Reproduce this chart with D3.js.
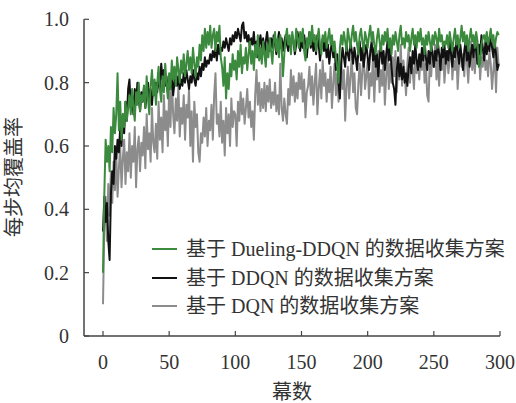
<!DOCTYPE html>
<html>
<head>
<meta charset="utf-8">
<script src="https://cdn.jsdelivr.net/npm/d3@7"></script>
<style>
  body { margin: 0; background: #fff; }
</style>
</head>
<body>
<svg id="chart"></svg>
<script>
// episode values (one per episode, 0..299)
const duelingDDQN = [
  0.20,0.45,0.62,0.55,0.60,0.52,0.66,0.58,0.72,0.64,
  0.70,0.83,0.65,0.74,0.62,0.70,0.66,0.74,0.68,0.72,
  0.76,0.70,0.78,0.72,0.68,0.77,0.73,0.80,0.71,0.76,
  0.74,0.79,0.72,0.82,0.75,0.70,0.79,0.84,0.76,0.81,
  0.73,0.80,0.85,0.78,0.74,0.82,0.77,0.86,0.80,0.75,
  0.83,0.78,0.87,0.81,0.85,0.79,0.88,0.84,0.80,0.87,
  0.83,0.89,0.82,0.86,0.90,0.84,0.88,0.83,0.91,0.86,
  0.82,0.88,0.85,0.92,0.87,0.95,0.90,0.97,0.91,0.96,
  0.92,0.98,0.91,0.95,0.97,0.90,0.96,0.93,0.98,0.88,
  0.85,0.79,0.88,0.75,0.83,0.78,0.86,0.82,0.89,0.84,
  0.87,0.81,0.90,0.85,0.92,0.83,0.88,0.86,0.91,0.84,
  0.89,0.93,0.86,0.90,0.84,0.92,0.88,0.95,0.87,0.91,
  0.86,0.93,0.89,0.85,0.92,0.88,0.94,0.90,0.86,0.93,
  0.96,0.90,0.94,0.88,0.95,0.91,0.82,0.89,0.94,0.97,
  0.92,0.95,0.89,0.96,0.93,0.90,0.97,0.94,0.91,0.96,
  0.93,0.97,0.90,0.87,0.94,0.91,0.96,0.92,0.98,0.93,
  0.95,0.90,0.94,0.97,0.92,0.89,0.95,0.93,0.96,0.91,
  0.94,0.97,0.92,0.95,0.90,0.93,0.88,0.85,0.80,0.91,
  0.95,0.92,0.96,0.93,0.90,0.97,0.94,0.91,0.95,0.98,
  0.93,0.96,0.92,0.89,0.95,0.97,0.93,0.90,0.96,0.94,
  0.91,0.95,0.98,0.93,0.96,0.92,0.89,0.94,0.97,0.93,
  0.90,0.95,0.92,0.96,0.93,0.97,0.91,0.94,0.89,0.95,
  0.92,0.96,0.93,0.90,0.95,0.98,0.92,0.94,0.91,0.96,
  0.93,0.95,0.90,0.94,0.97,0.92,0.95,0.91,0.96,0.93,
  0.97,0.92,0.94,0.89,0.95,0.92,0.96,0.93,0.90,0.95,
  0.92,0.96,0.94,0.91,0.97,0.93,0.95,0.91,0.93,0.92,
  0.95,0.91,0.96,0.93,0.90,0.94,0.97,0.92,0.95,0.91,
  0.94,0.98,0.93,0.96,0.92,0.95,0.90,0.94,0.97,0.93,
  0.95,0.91,0.96,0.93,0.85,0.86,0.92,0.94,0.95,0.93,
  0.96,0.92,0.94,0.97,0.93,0.95,0.91,0.94,0.96,0.95
];
const ddqn = [
  0.33,0.44,0.36,0.42,0.30,0.24,0.45,0.52,0.48,0.60,
  0.56,0.62,0.58,0.66,0.60,0.70,0.64,0.74,0.68,0.78,
  0.81,0.72,0.76,0.70,0.78,0.73,0.80,0.75,0.71,0.77,
  0.74,0.79,0.72,0.76,0.80,0.74,0.78,0.73,0.79,0.76,
  0.80,0.77,0.83,0.78,0.86,0.81,0.84,0.79,0.82,0.77,
  0.81,0.78,0.83,0.76,0.80,0.84,0.79,0.82,0.78,0.81,
  0.79,0.83,0.80,0.84,0.81,0.78,0.82,0.80,0.84,0.81,
  0.79,0.83,0.81,0.85,0.82,0.86,0.84,0.88,0.85,0.87,
  0.86,0.89,0.87,0.90,0.88,0.91,0.87,0.92,0.89,0.91,
  0.90,0.93,0.91,0.94,0.92,0.90,0.94,0.92,0.95,0.93,
  0.96,0.94,0.97,0.95,0.93,0.98,0.99,0.94,0.96,0.93,
  0.95,0.91,0.94,0.92,0.96,0.90,0.93,0.88,0.92,0.95,
  0.91,0.94,0.89,0.93,0.96,0.92,0.90,0.94,0.91,0.95,
  0.92,0.89,0.93,0.96,0.91,0.94,0.90,0.93,0.95,0.92,
  0.90,0.94,0.91,0.95,0.93,0.89,0.92,0.96,0.93,0.90,
  0.94,0.91,0.95,0.92,0.88,0.93,0.96,0.91,0.94,0.90,
  0.93,0.89,0.95,0.92,0.87,0.91,0.94,0.90,0.93,0.88,
  0.92,0.86,0.90,0.93,0.88,0.91,0.84,0.89,0.80,0.75,
  0.86,0.91,0.88,0.85,0.92,0.89,0.87,0.93,0.90,0.86,
  0.91,0.88,0.84,0.90,0.93,0.87,0.91,0.85,0.89,0.92,
  0.88,0.84,0.90,0.93,0.87,0.91,0.85,0.89,0.82,0.88,
  0.92,0.86,0.90,0.84,0.89,0.93,0.87,0.91,0.85,0.80,
  0.78,0.73,0.84,0.88,0.82,0.86,0.81,0.85,0.80,0.83,
  0.79,0.85,0.88,0.83,0.90,0.86,0.92,0.87,0.84,0.89,
  0.85,0.91,0.87,0.93,0.88,0.84,0.90,0.86,0.92,0.89,
  0.85,0.90,0.87,0.93,0.89,0.84,0.91,0.88,0.92,0.86,
  0.90,0.87,0.93,0.89,0.85,0.91,0.88,0.94,0.90,0.86,
  0.92,0.88,0.84,0.90,0.93,0.87,0.91,0.85,0.89,0.92,
  0.88,0.94,0.90,0.86,0.92,0.89,0.95,0.91,0.87,0.93,
  0.89,0.94,0.90,0.96,0.91,0.88,0.93,0.89,0.84,0.86
];
const dqn = [
  0.10,0.34,0.44,0.30,0.48,0.38,0.52,0.42,0.55,0.46,
  0.58,0.44,0.53,0.60,0.47,0.56,0.62,0.48,0.58,0.52,
  0.64,0.50,0.60,0.55,0.66,0.47,0.59,0.63,0.52,0.61,
  0.57,0.66,0.53,0.70,0.59,0.64,0.55,0.72,0.61,0.58,
  0.67,0.56,0.74,0.62,0.69,0.58,0.76,0.65,0.71,0.60,
  0.78,0.66,0.82,0.70,0.64,0.75,0.68,0.79,0.63,0.72,
  0.67,0.76,0.62,0.73,0.69,0.78,0.60,0.71,0.55,0.74,
  0.66,0.70,0.58,0.55,0.64,0.61,0.69,0.63,0.72,0.60,
  0.68,0.65,0.73,0.62,0.76,0.83,0.67,0.70,0.63,0.74,
  0.61,0.68,0.57,0.72,0.64,0.70,0.60,0.75,0.66,0.71,
  0.70,0.60,0.74,0.68,0.77,0.70,0.75,0.67,0.72,0.78,
  0.69,0.74,0.66,0.71,0.62,0.76,0.84,0.73,0.80,0.71,
  0.78,0.72,0.80,0.71,0.79,0.74,0.81,0.72,0.77,0.73,
  0.80,0.71,0.76,0.70,0.86,0.72,0.68,0.75,0.70,0.67,
  0.78,0.73,0.84,0.76,0.82,0.74,0.80,0.75,0.83,0.78,
  0.83,0.74,0.81,0.69,0.77,0.79,0.85,0.76,0.82,0.73,
  0.80,0.86,0.70,0.78,0.84,0.75,0.87,0.79,0.83,0.74,
  0.81,0.77,0.85,0.72,0.80,0.86,0.76,0.83,0.74,0.81,
  0.87,0.78,0.84,0.68,0.79,0.85,0.75,0.82,0.88,0.77,
  0.83,0.72,0.70,0.80,0.86,0.76,0.84,0.89,0.78,0.82,
  0.87,0.75,0.83,0.79,0.88,0.74,0.85,0.81,0.90,0.77,
  0.84,0.79,0.87,0.73,0.82,0.89,0.78,0.86,0.80,0.88,
  0.82,0.90,0.77,0.85,0.81,0.92,0.79,0.87,0.83,0.76,
  0.86,0.91,0.80,0.88,0.84,0.78,0.90,0.83,0.87,0.81,
  0.89,0.84,0.91,0.80,0.86,0.76,0.74,0.88,0.82,0.90,
  0.85,0.92,0.81,0.87,0.79,0.89,0.84,0.91,0.80,0.86,
  0.90,0.83,0.88,0.93,0.81,0.87,0.84,0.90,0.78,0.86,
  0.91,0.85,0.89,0.82,0.92,0.87,0.80,0.88,0.93,0.84,
  0.89,0.83,0.90,0.86,0.92,0.81,0.88,0.85,0.91,0.84,
  0.87,0.82,0.90,0.86,0.78,0.84,0.89,0.77,0.91,0.85
];
const xTicks = [0, 50, 100, 150, 200, 250, 300];
const yTicks = [0, 0.2, 0.4, 0.6, 0.8, 1.0];
const seriesNames = [
  "基于 Dueling-DDQN 的数据收集方案",
  "基于 DDQN 的数据收集方案",
  "基于 DQN 的数据收集方案"
];
const seriesColors = ["#3b8a3e", "#111111", "#8c8c8c"];

const W = 516, H = 403;
const axisLeft = 84, plotLeft = 103, plotRight = 500, plotTop = 19.3, plotBottom = 336;
const fontStack = "'Liberation Serif', 'Times New Roman', 'Noto Sans CJK SC', serif";

const svg = d3.select("#chart")
  .attr("width", W).attr("height", H)
  .style("font-family", fontStack);

const x = d3.scaleLinear().domain([0, 300]).range([plotLeft, plotRight]);
const y = d3.scaleLinear().domain([0, 1]).range([plotBottom, plotTop]);

// lines: draw gray first, then black, then green on top
const series = [duelingDDQN, ddqn, dqn];
const line = d3.line().x((d, i) => x(i)).y(d => y(d));
[2, 1, 0].forEach(k => {
  svg.append("path")
    .datum(series[k])
    .attr("fill", "none")
    .attr("stroke", seriesColors[k])
    .attr("stroke-width", 2)
    .attr("stroke-linejoin", "round")
    .attr("d", line);
});

// axes
const axisColor = "#444";
svg.append("line")
  .attr("x1", axisLeft).attr("x2", plotRight)
  .attr("y1", plotBottom).attr("y2", plotBottom)
  .attr("stroke", axisColor).attr("stroke-width", 1.5);
svg.append("line")
  .attr("x1", axisLeft).attr("x2", axisLeft)
  .attr("y1", plotTop).attr("y2", plotBottom)
  .attr("stroke", axisColor).attr("stroke-width", 1.5);

svg.selectAll(".xtick")
  .data(xTicks)
  .enter().append("line")
  .attr("x1", d => x(d)).attr("x2", d => x(d))
  .attr("y1", plotBottom).attr("y2", plotBottom - 5)
  .attr("stroke", axisColor).attr("stroke-width", 1.2);
svg.selectAll(".xlab")
  .data(xTicks)
  .enter().append("text")
  .attr("x", d => x(d))
  .attr("y", 369)
  .attr("text-anchor", "middle")
  .attr("fill", "#333")
  .style("font-size", "20px")
  .text(d => d);

svg.selectAll(".ytick")
  .data(yTicks)
  .enter().append("line")
  .attr("x1", axisLeft).attr("x2", axisLeft + 5)
  .attr("y1", d => y(d)).attr("y2", d => y(d))
  .attr("stroke", axisColor).attr("stroke-width", 1.2);
svg.selectAll(".ylab")
  .data(yTicks)
  .enter().append("text")
  .attr("x", 69)
  .attr("y", d => y(d) + 7)
  .attr("text-anchor", "end")
  .attr("fill", "#333")
  .style("font-size", "20px")
  .text(d => d === 0 ? "0" : d3.format(".1f")(d));

// axis titles
svg.append("text")
  .attr("x", 292).attr("y", 399)
  .attr("text-anchor", "middle")
  .attr("fill", "#333")
  .style("font-size", "20px")
  .text("幕数");
svg.append("text")
  .attr("transform", "translate(21,177) rotate(-90)")
  .attr("text-anchor", "middle")
  .attr("fill", "#333")
  .style("font-size", "20px")
  .text("每步均覆盖率");

// legend
const legendY = [249, 278, 306];
seriesNames.forEach((name, k) => {
  svg.append("line")
    .attr("x1", 152).attr("x2", 177)
    .attr("y1", legendY[k]).attr("y2", legendY[k])
    .attr("stroke", seriesColors[k]).attr("stroke-width", 2);
  svg.append("text")
    .attr("x", 186).attr("y", legendY[k] + 7)
    .attr("fill", "#333")
    .style("font-size", "20px")
    .text(name);
});
</script>
</body>
</html>
